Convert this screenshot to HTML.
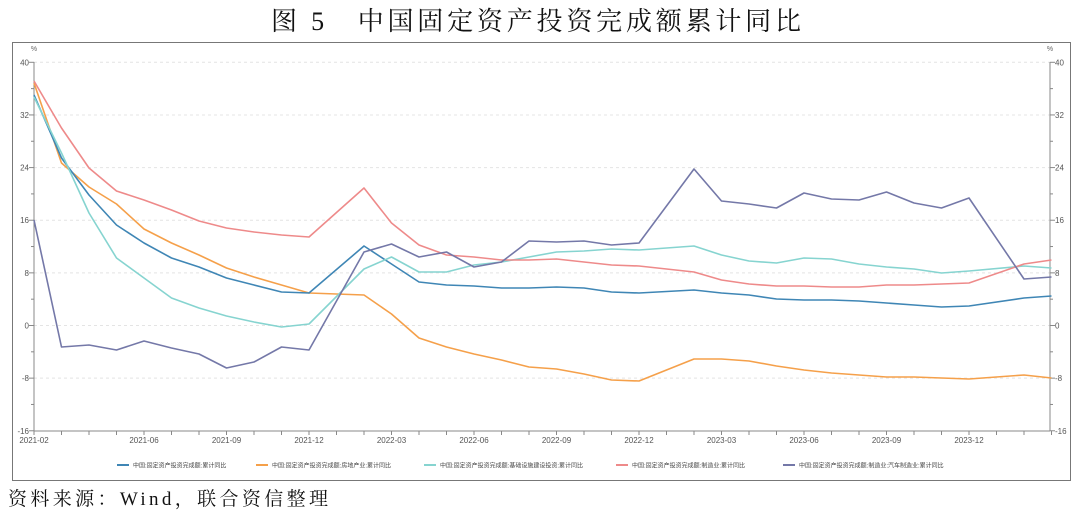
<!DOCTYPE html>
<html><head><meta charset="utf-8"><style>
html,body{margin:0;padding:0;background:#fff;}
body{width:1080px;height:516px;overflow:hidden;position:relative;}
</style></head><body>
<svg id="s" width="1080" height="516" xmlns="http://www.w3.org/2000/svg" style="position:absolute;left:0;top:0">
<text x="271" y="30" textLength="530" lengthAdjust="spacing" font-family="'Liberation Serif','Noto Serif CJK SC',serif" font-size="26" fill="#111">图 5　中国固定资产投资完成额累计同比</text>
<rect x="12.5" y="42.5" width="1058" height="438" fill="none" stroke="#777" stroke-width="1"/>
<g id="g"></g>
<text x="8" y="505" textLength="320" lengthAdjust="spacing" font-family="'Liberation Serif','Noto Serif CJK SC',serif" font-size="19" fill="#111">资料来源：Wind，联合资信整理</text>
</svg>
<script>
const g=document.getElementById('g');let h='';
const X=i=>34+i*27.5, Y=v=>325.5-v*6.58;
const F="font-family=\"'Liberation Sans','Noto Sans CJK SC',sans-serif\"";
for(let v=-16;v<=40;v+=4){const y=Y(v);
 if(v%8==0){ if(v>-16)h+=`<line x1="34" x2="1050" y1="${y}" y2="${y}" stroke="#e4e4e4" stroke-dasharray="3,3"/>`;
  h+=`<text x="29" y="${y+3}" text-anchor="end" font-size="8" fill="#555" ${F}>${v}</text><text x="1055" y="${y+3}" font-size="8" fill="#555" ${F}>${v}</text>`;
  h+=`<line x1="29" x2="34" y1="${y}" y2="${y}" stroke="#888"/><line x1="1050" x2="1055" y1="${y}" y2="${y}" stroke="#888"/>`;}
 else h+=`<line x1="31" x2="34" y1="${y}" y2="${y}" stroke="#888"/><line x1="1050" x2="1053" y1="${y}" y2="${y}" stroke="#888"/>`;}
h+=`<text x="34" y="51" text-anchor="middle" font-size="7" fill="#666" ${F}>%</text><text x="1050" y="51" text-anchor="middle" font-size="7" fill="#666" ${F}>%</text>`;
h+=`<line x1="34" x2="34" y1="62" y2="431" stroke="#888"/><line x1="1050" x2="1050" y1="62" y2="431" stroke="#888"/><line x1="34" x2="1050" y1="431" y2="431" stroke="#888"/>`;
for(let i=0;i<=37;i++)h+=`<line x1="${X(i)}" x2="${X(i)}" y1="431" y2="435" stroke="#888"/>`;
const lab=[[0,'2021-02'],[4,'2021-06'],[7,'2021-09'],[10,'2021-12'],[13,'2022-03'],[16,'2022-06'],[19,'2022-09'],[22,'2022-12'],[25,'2023-03'],[28,'2023-06'],[31,'2023-09'],[34,'2023-12']];
lab.forEach(([i,t])=>h+=`<text x="${X(i)}" y="443" text-anchor="middle" font-size="8" fill="#555" ${F}>${t}</text>`);
const idx=[0,1,2,3,4,5,6,7,8,9,10,12,13,14,15,16,17,18,19,20,21,22,24,25,26,27,28,29,30,31,32,33,34,36,37];
const S=[
['#f5a04a',[83,163,187,204,229,243,255,268,277,285,293,295,314,338,347,354,360,367,369,374,380,381,359,359,361,366,370,373,375,377,377,378,379,375,378]],
['#3f86b5',[95,158,195,225,243,258,267,278,285,292,293,246,264,282,285,286,288,288,287,288,292,293,290,293,295,299,300,300,301,303,305,307,306,298,296]],
['#86d4d0',[97,153,213,258,278,298,308,316,322,327,324,269,257,272,272,265,262,257,252,251,249,250,246,255,261,263,258,259,264,267,269,273,271,266,268]],
['#ee8a8a',[81,128,168,191,200,210,221,228,232,235,237,188,223,245,255,257,260,260,259,262,265,266,272,280,284,286,286,287,287,285,285,284,283,264,260]],
['#7478a8',[220,347,345,350,341,348,354,368,362,347,350,252,244,257,252,267,262,241,242,241,245,243,169,201,204,208,193,199,200,192,203,208,198,279,277]]];
S.forEach(([c,ys])=>{h+=`<polyline fill="none" stroke="${c}" stroke-width="1.6" stroke-linejoin="round" points="${ys.map((y,k)=>X(idx[k])+','+y).join(' ')}"/>`;});
const L=[[117,'#3f86b5','中国:固定资产投资完成额:累计同比'],[256,'#f5a04a','中国:固定资产投资完成额:房地产业:累计同比'],[424,'#86d4d0','中国:固定资产投资完成额:基础设施建设投资:累计同比'],[616,'#ee8a8a','中国:固定资产投资完成额:制造业:累计同比'],[783,'#7478a8','中国:固定资产投资完成额:制造业:汽车制造业:累计同比']];
L.forEach(([x,c,t])=>{h+=`<line x1="${x}" x2="${x+12}" y1="465" y2="465" stroke="${c}" stroke-width="2"/><text x="${x+16}" y="467.5" font-size="6" fill="#444" ${F}>${t}</text>`;});
g.innerHTML=h;
</script>
</body></html>
